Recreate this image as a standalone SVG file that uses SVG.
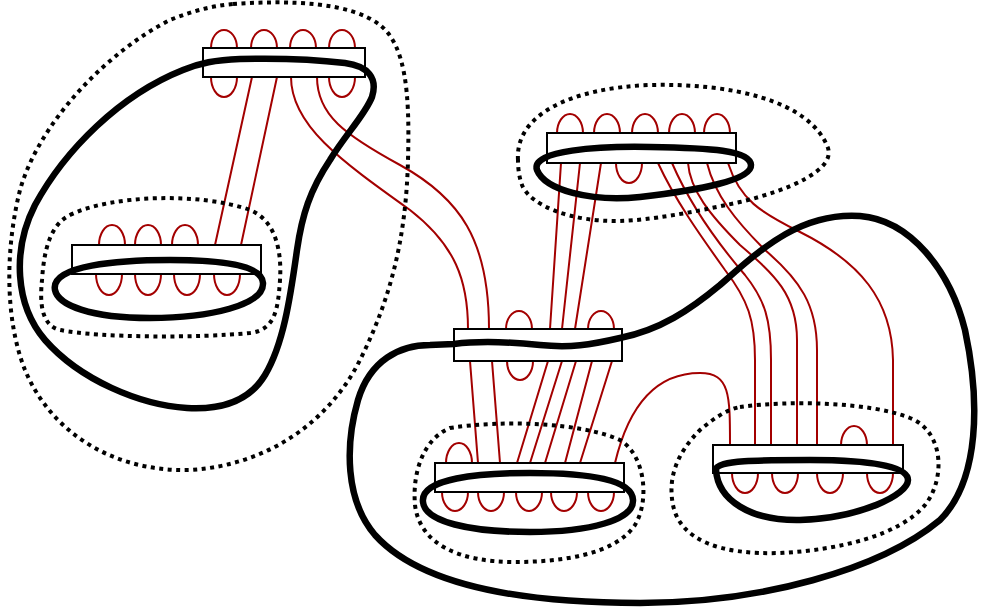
<svg xmlns="http://www.w3.org/2000/svg" width="984" height="615" viewBox="0 0 984 615">
<style>
.r{fill:none;stroke:#a30000;stroke-width:2}
.box{fill:#fff;stroke:#000;stroke-width:2}
.k{fill:none;stroke:#000;stroke-width:6.5;stroke-linejoin:round}
.d{fill:none;stroke:#000;stroke-width:4;stroke-dasharray:4 4.5}
</style>
<rect width="984" height="615" fill="#fff"/>
<g id="threads">
<path class="r" d="M252,77 L215,245 M277,77 L241,245"/>
<path class="r" d="M291,77 C291,125 340,160 410,210 C455,245 468,280 468,329"/>
<path class="r" d="M317,77 C317,115 345,135 400,165 C460,198 489,240 489,329"/>
<path class="r" d="M561,163 L550,329 M580,163 L562,329 M601,163 L575,329"/>
<path class="r" d="M658,163 C675,200 700,235 725,270 C748,300 755,320 755,360 L755,445"/>
<path class="r" d="M672,163 C688,200 715,240 745,275 C765,300 771,320 771,360 L771,445"/>
<path class="r" d="M688,163 C690,190 710,215 740,245 C775,275 797,295 797,340 L797,445"/>
<path class="r" d="M707,163 C715,195 735,220 765,250 C800,280 817,305 817,350 L817,445"/>
<path class="r" d="M728,163 C740,200 760,212 800,232 C860,262 892,300 893,360 L893,445"/>
<path class="r" d="M470,361 L478,463 M492,361 L500,463 M548,361 L517,463 M562,361 L530,463 M576,361 L545,463 M592,361 L565,463 M612,361 L580,463"/>
<path class="r" d="M615,463 C630,400 660,373 700,373 C730,373 730,395 730,445"/>
</g>
<g id="boxA">
<path class="r" d="M211,48 A13,18 0 0 1 237,48 M251,48 A13,18 0 0 1 277,48 M290,48 A13,18 0 0 1 316,48 M329,48 A13,18 0 0 1 355,48"/>
<path class="r" d="M211,77 A13,20 0 0 0 237,77 M329,77 A13,20 0 0 0 355,77"/>
<rect class="box" x="203" y="48" width="162" height="29"/>
</g>
<g id="boxB">
<path class="r" d="M99,245 A13,20 0 0 1 125,245 M135,245 A13,20 0 0 1 161,245 M172,245 A13,20 0 0 1 198,245"/>
<path class="r" d="M96,274 A13,21 0 0 0 122,274 M135,274 A13,21 0 0 0 161,274 M174,274 A13,21 0 0 0 200,274 M214,274 A13,21 0 0 0 240,274"/>
<rect class="box" x="72" y="245" width="189" height="29"/>
</g>
<g id="boxC">
<path class="r" d="M557,133 A13,19 0 0 1 583,133 M594,133 A13,19 0 0 1 620,133 M632,133 A13,19 0 0 1 658,133 M669,133 A13,19 0 0 1 695,133 M704,133 A13,19 0 0 1 730,133"/>
<path class="r" d="M616,163 A13,20 0 0 0 642,163"/>
<rect class="box" x="547" y="133" width="189" height="30"/>
</g>
<g id="boxD">
<path class="r" d="M506,329 A13,18 0 0 1 532,329 M588,329 A13,18 0 0 1 614,329"/>
<path class="r" d="M507,361 A13,19 0 0 0 533,361"/>
<rect class="box" x="454" y="329" width="168" height="32"/>
</g>
<g id="boxE">
<path class="r" d="M446,463 A13,20 0 0 1 472,463"/>
<path class="r" d="M442,492 A13,19 0 0 0 468,492 M478,492 A13,19 0 0 0 504,492 M516,492 A13,19 0 0 0 542,492 M551,492 A13,19 0 0 0 577,492 M588,492 A13,19 0 0 0 614,492"/>
<rect class="box" x="435" y="463" width="189" height="29"/>
</g>
<g id="boxF">
<path class="r" d="M841,445 A13,19 0 0 1 867,445"/>
<path class="r" d="M732,473 A13,20 0 0 0 758,473 M772,473 A13,20 0 0 0 798,473 M817,473 A13,20 0 0 0 843,473 M867,473 A13,20 0 0 0 893,473"/>
<rect class="box" x="713" y="445" width="190" height="28"/>
</g>
<g id="loops">
<path class="k" d="M183,70 C200,63 215,60 240,59 C280,58 320,60 345,63 C368,66 378,78 372,97 C365,115 345,135 330,160 C310,190 302,215 297,250 C290,300 283,345 265,375 C250,400 222,410 187,408 C140,405 80,380 45,340 C15,305 12,250 35,205 C65,150 120,95 183,70 Z"/>
<path class="k" d="M55,290 C50,265 120,260 170,260 C220,260 262,265 263,283 C264,305 210,318 150,318 C90,318 58,305 55,290 Z"/>
<path class="k" d="M537,170 C530,150 600,146 650,147 C710,148 750,150 751,165 C752,180 700,190 640,197 C590,202 545,190 537,170 Z"/>
<path class="k" d="M423,502 C420,478 480,473 530,473 C590,473 632,480 633,500 C634,520 590,532 530,532 C470,532 425,522 423,502 Z"/>
<path class="k" d="M716,470 C716,460 760,460 810,460 C870,460 908,466 908,480 C908,495 860,518 800,520 C750,521 718,500 716,470 Z"/>
<path class="k" d="M430,345 C400,345 370,360 358,400 C345,445 345,500 375,535 C420,585 520,603 640,603 C760,603 880,570 940,520 C980,480 980,400 965,330 C950,270 910,220 860,216 C800,212 760,250 720,285 C690,310 660,330 620,338 C590,345 570,348 540,345 C500,341 470,342 454,344 Z"/>
</g>
<g id="regions">
<path class="d" d="M233,4 C290,0 350,2 380,25 C405,45 410,90 408,160 C406,240 390,300 360,360 C330,420 270,465 190,470 C110,472 50,430 25,370 C5,320 5,250 20,190 C40,120 110,50 170,20 C190,12 210,6 233,4 Z"/>
<path class="d" d="M70,215 C110,195 200,192 250,210 C275,220 282,250 280,280 C278,310 275,330 250,333 C200,338 100,338 60,330 C40,325 40,300 42,280 C44,250 50,225 70,215 Z"/>
<path class="d" d="M518,160 C515,115 570,88 650,85 C730,83 810,100 828,148 C835,170 790,190 740,202 C690,213 650,220 620,221 C570,222 530,205 522,185 C519,177 518,168 518,160 Z"/>
<path class="d" d="M450,428 C500,420 580,422 620,440 C645,455 650,500 635,525 C615,555 560,562 515,562 C460,562 420,545 415,505 C412,470 425,438 450,428 Z"/>
<path class="d" d="M740,407 C790,400 870,402 910,418 C945,432 945,480 925,505 C900,535 840,550 780,553 C720,555 680,540 673,505 C668,480 675,455 700,430 C712,420 725,410 740,407 Z"/>
</g>
</svg>
